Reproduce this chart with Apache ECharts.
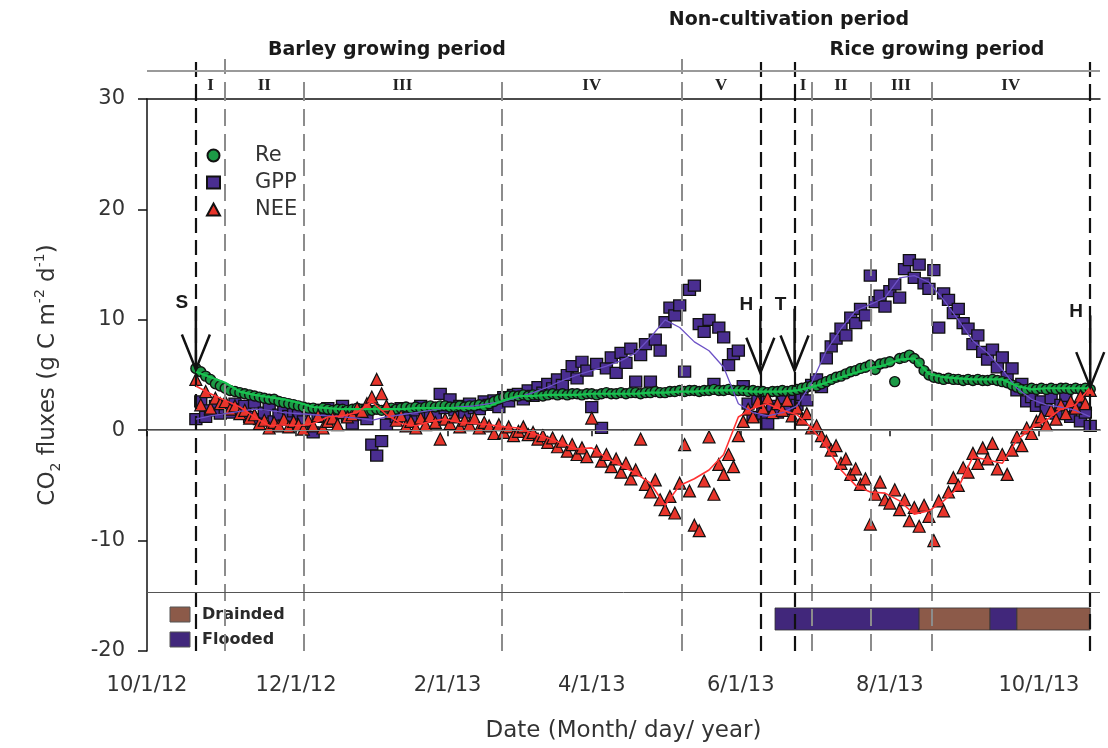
<!DOCTYPE html>
<html><head><meta charset="utf-8">
<script src="https://cdn.jsdelivr.net/npm/echarts@6/dist/echarts.min.js"></script>
<style>html,body{margin:0;padding:0;background:#fff}#c{width:1108px;height:748px}</style>
</head><body><div id="c"></div>
<script>
// ---- sampling of the daily flux record (every 2nd day from 21 Oct 2012) ----
const pointStart = [2012, 10, 21];
const pointStepDays = 2;
// ---- running-mean lines, sampled every 6th day from 21 Oct 2012 ----
const lineStart = [2012, 10, 21];
const lineStepDays = 6;

const reValues = [
 5.6,5.3,4.9,4.6,4.2,4.0,
 3.8,3.6,3.5,3.4,3.3,3.2,3.1,3.0,2.9,2.8,2.8,2.6,2.5,2.4,2.3,
 2.2,2.1,2.0,2.0,1.9,2.0,1.9,1.8,1.9,1.9,1.8,1.9,2.0,1.9,1.8,
 1.8,1.9,1.8,1.9,2.0,1.9,2.0,2.1,2.0,2.1,2.0,2.1,2.2,2.1,2.2,2.2,
 2.1,2.1,2.2,2.1,2.2,2.2,2.3,2.2,2.4,2.6,2.8,3.0,3.1,3.1,
 3.1,3.2,3.1,3.2,3.2,3.1,3.2,3.3,3.2,3.3,3.2,3.3,3.3,3.2,3.3,
 3.3,3.2,3.3,3.4,3.3,3.3,3.4,3.3,3.4,3.4,3.3,3.4,3.4,3.5,3.4,
 3.4,3.5,3.5,3.6,3.5,3.6,3.6,3.5,3.6,3.6,3.7,3.6,3.6,3.7,3.6,3.6,
 3.6,3.5,3.6,3.5,3.5,3.4,3.5,3.5,3.6,3.5,3.6,3.7,3.8,3.9,4.0,
 4.0,4.2,4.4,4.6,4.8,4.9,5.1,5.3,5.4,5.6,5.7,5.9,5.5,6.0,6.1,
 6.2,4.4,6.5,6.6,6.8,6.5,6.1,5.4,5.0,4.8,4.7,4.6,4.7,4.6,4.6,4.5,
 4.6,4.5,4.6,4.5,4.5,4.6,4.5,4.4,4.3,4.1,3.9,3.7,3.7,3.8,3.7,
 3.8,3.7,3.8,3.7,3.8,3.8,3.7,3.8,3.7,3.8,3.7
];
const gppValues = [
 1.0,2.6,1.2,1.8,2.2,1.5,
 2.0,1.6,2.4,1.9,2.2,1.2,2.5,1.0,1.6,2.3,0.8,1.4,2.1,1.3,1.7,
 1.5,0.8,1.9,-0.2,1.2,1.7,2.0,1.1,1.6,2.2,1.3,0.6,1.4,1.8,1.0,
 -1.3,-2.3,-1.0,0.5,1.6,1.2,2.0,1.4,0.9,1.8,2.2,1.5,1.5,1.2,3.3,2.0,
 2.8,1.8,2.2,1.6,2.4,2.0,1.9,2.6,2.3,2.7,2.1,3.0,2.6,3.2,
 3.3,2.8,3.6,3.1,3.9,3.4,4.2,3.8,4.6,4.1,5.0,5.8,4.7,6.2,5.4,
 2.1,6.0,0.2,5.6,6.6,5.2,7.0,6.1,7.4,4.4,6.8,7.8,4.4,8.2,7.2,
 9.8,11.1,10.4,11.3,5.3,12.7,13.1,9.6,8.9,10.0,4.2,9.3,8.4,5.9,6.9,7.2,
 4.0,2.4,1.2,2.8,1.5,0.6,2.2,1.6,2.6,1.9,2.9,2.3,3.2,2.7,4.1,
 4.6,3.9,6.5,7.6,8.3,9.2,8.6,10.2,9.7,11.0,10.4,14.0,11.6,12.2,11.2,
 12.6,13.2,12.0,14.6,15.4,13.8,15.0,13.3,12.8,14.5,9.3,12.4,11.8,10.6,11.0,9.7,
 9.2,7.8,8.6,7.1,6.4,7.3,5.7,6.6,4.8,5.6,3.6,4.2,2.6,3.0,2.2,
 2.6,1.8,2.9,1.5,2.3,3.1,1.2,2.0,0.8,1.6,0.4
];
const neeValues = [
 4.6,2.3,3.5,2.0,2.9,2.4,
 2.6,1.9,2.2,1.5,1.8,1.1,1.4,0.6,0.9,0.2,0.7,0.4,1.0,0.3,0.8,
 0.5,0.1,0.9,0.4,1.3,0.2,0.8,1.1,0.5,1.6,1.2,1.4,2.0,1.7,2.4,
 3.0,4.6,3.3,2.2,1.6,0.9,1.3,0.4,0.8,0.2,1.1,0.5,1.3,0.7,-0.8,1.0,
 0.6,1.2,0.3,0.9,0.5,1.1,0.2,0.7,0.4,-0.3,0.5,-0.2,0.3,-0.5,
 -0.1,0.3,-0.4,-0.2,-0.8,-0.5,-1.1,-0.7,-1.5,-1.0,-1.9,-1.3,-2.2,-1.6,-2.4,
 1.1,-1.9,-2.8,-2.2,-3.3,-2.6,-3.8,-3.0,-4.4,-3.6,-0.8,-4.9,-5.6,-4.5,-6.3,
 -7.2,-6.0,-7.5,-4.8,-1.3,-5.5,-8.6,-9.1,-4.6,-0.6,-5.8,-3.1,-4.0,-2.2,-3.3,-0.5,
 0.8,1.9,1.2,2.6,2.0,2.9,1.6,2.4,1.8,2.7,1.3,2.0,1.0,1.5,0.2,
 0.4,-0.5,-1.0,-1.8,-1.4,-3.0,-2.6,-4.0,-3.5,-4.9,-4.4,-8.5,-5.8,-4.7,-6.3,
 -6.6,-5.4,-7.2,-6.3,-8.2,-7.0,-8.7,-6.8,-7.8,-10.0,-6.4,-7.3,-5.6,-4.3,-5.0,-3.4,
 -3.8,-2.1,-3.0,-1.6,-2.6,-1.2,-3.5,-2.2,-4.0,-1.8,-0.6,-1.4,0.2,-0.3,0.8,
 1.2,0.5,1.8,1.0,2.3,1.5,2.6,2.0,3.1,2.4,3.6
];
const reLine = [5.3,4.8,4.3,3.5,3.2,3.0,2.8,2.5,2.1,2.0,1.9,1.9,1.9,1.9,1.9,2.0,2.0,2.0,2.0,2.0,2.2,2.7,3.1,3.1,3.2,3.2,3.2,3.3,3.3,3.3,3.3,3.4,3.4,3.5,3.5,3.6,3.6,3.6,3.5,3.5,3.5,3.6,3.9,4.3,4.8,5.2,5.6,5.9,6.4,6.5,5.1,4.8,4.7,4.6,4.6,4.6,4.0,3.7,3.8,3.8,3.8,3.8];
const gppLine = [1.0,1.3,1.5,1.7,1.9,1.8,1.6,1.5,1.4,1.3,1.2,1.1,0.9,1.2,1.4,1.6,1.8,2.0,2.1,2.2,2.4,2.6,3.0,3.4,3.9,4.5,5.0,5.4,5.8,6.3,7.0,8.4,10.0,9.3,8.0,7.2,5.7,2.4,1.6,1.3,1.6,2.2,4.3,7.2,9.2,10.8,11.4,12.0,13.8,14.0,13.4,11.8,10.0,8.1,7.0,5.5,3.8,2.8,2.3,2.1,1.8,1.2];
const neeLine = [4.0,3.3,2.7,2.1,1.2,0.4,0.5,0.4,0.6,1.2,1.3,1.6,2.6,1.4,0.6,0.4,0.8,1.0,0.7,0.6,0.5,0.3,0.2,-0.3,-0.7,-1.2,-1.7,-1.6,-2.5,-3.2,-3.9,-4.8,-6.8,-5.0,-4.4,-3.6,-2.2,1.2,2.0,2.4,1.8,1.4,0.2,-1.5,-3.6,-5.0,-5.6,-5.7,-6.4,-7.6,-7.3,-6.4,-5.2,-2.4,-2.7,-3.0,-0.9,0.2,0.9,1.9,2.3,3.9];

// x-axis tick labels (dates) and range
const xTickDates = ['2012-10-01','2012-12-01','2013-02-01','2013-04-01','2013-06-01','2013-08-01','2013-10-01'];
const xRange = ['2012-10-01','2013-10-26'];
const yTicks = [-20,-10,0,10,20,30];

// event dates (S sowing, H harvest, T transplanting) and growth-stage boundaries
const eventDates = ['2012-10-21','2013-06-09','2013-06-23','2013-10-22'];
const eventNames = ['S','H','T','H'];
const eventTip = [5.5, 5.2, 5.4, 3.9];
const eventTop = [11.2, 11.0, 11.0, 10.4];
const stageBounds = ['2012-11-02','2012-12-04','2013-02-23','2013-05-08','2013-06-30','2013-07-24','2013-08-18'];
const tallStage = ['2012-11-02','2013-05-08'];
const stageLabels = [
 ['I','2012-10-21','2012-11-02'],['II','2012-11-02','2012-12-04'],['III','2012-12-04','2013-02-23'],
 ['IV','2013-02-23','2013-05-08'],['V','2013-05-08','2013-06-09'],
 ['I','2013-06-23','2013-06-30'],['II','2013-06-30','2013-07-24'],['III','2013-07-24','2013-08-18'],['IV','2013-08-18','2013-10-22']
];
// water regime of the rice paddy
const waterSegments = [
 ['Flooded','2013-06-15','2013-08-13'],['Drainded','2013-08-13','2013-09-11'],
 ['Flooded','2013-09-11','2013-09-22'],['Drainded','2013-09-22','2013-10-22']
];
const waterBand = [-16.1, -18.1];
const separatorY = -14.7;

function ts(s){const p=s.split('-').map(Number);return new Date(p[0],p[1]-1,p[2]).getTime();}
function sampled(vals, start, step){return vals.map((v,i)=>[new Date(start[0],start[1]-1,start[2]+step*i).getTime(), v]);}

const C_RE='#1c9a46', C_GPP='#4a2e91', C_NEE='#e8352b', C_BROWN='#8c5a49', C_PURP='#41277b';
const FONT='DejaVu Sans';
const blackDash={color:'#111',width:2.2,type:[15,7]};
const grayDash={color:'#8c8c8c',width:2,type:[17,8]};

const mainLines=[];
eventDates.forEach(d=>mainLines.push({xAxis:ts(d),lineStyle:blackDash}));
stageBounds.forEach(d=>mainLines.push({xAxis:ts(d),lineStyle:grayDash}));
mainLines.push({yAxis:0,lineStyle:{color:'#8a8a8a',width:1,type:'solid'}});
mainLines.push({yAxis:separatorY,lineStyle:{color:'#555',width:1,type:'solid'}});

const headLines=[];
eventDates.forEach(d=>headLines.push([{coord:[ts(d),0],lineStyle:blackDash},{coord:[ts(d),43]}]));
stageBounds.forEach(d=>headLines.push([{coord:[ts(d),0],lineStyle:grayDash},{coord:[ts(d),tallStage.includes(d)?40:22]}]));
headLines.push({yAxis:28,lineStyle:{color:'#9a9a9a',width:2,type:'solid'}});

const xMin=ts(xRange[0]), xMax=ts(xRange[1]);
const chart=echarts.init(document.getElementById('c'));
chart.setOption({
 animation:false,
 backgroundColor:'#fff',
 grid:[{left:147,right:8,top:99,bottom:91},{left:147,right:8,top:56,height:43}],
 xAxis:[
  {type:'value',gridIndex:0,min:xMin,max:xMax,position:'bottom',
   axisLine:{lineStyle:{color:'#111',width:1.5}},
   axisTick:{customValues:xTickDates.map(ts),length:6,lineStyle:{color:'#111',width:1.5}},
   axisLabel:{customValues:xTickDates.map(ts),margin:24,fontFamily:FONT,fontSize:21,color:'#333',
     formatter:v=>{const d=new Date(v);return (d.getMonth()+1)+'/'+d.getDate()+'/'+String(d.getFullYear()).slice(2);}},
   splitLine:{show:false},
   name:'Date (Month/ day/ year)',nameLocation:'middle',nameGap:69,
   nameTextStyle:{fontFamily:FONT,fontSize:23,color:'#333'}},
  {type:'value',gridIndex:0,min:xMin,max:xMax,position:'top',
   axisLine:{lineStyle:{color:'#111',width:1.5}},axisTick:{show:false},axisLabel:{show:false},splitLine:{show:false}},
  {type:'value',gridIndex:1,min:xMin,max:xMax,show:false}
 ],
 yAxis:[
  {type:'value',gridIndex:0,min:-20,max:30,interval:10,
   axisLine:{show:true,lineStyle:{color:'#111',width:1.5}},
   axisTick:{show:true,length:9,lineStyle:{color:'#111',width:1.5}},
   axisLabel:{margin:22,fontFamily:FONT,fontSize:21,color:'#333',formatter:v=>yTicks.includes(v)?String(v):''},
   splitLine:{show:false},
   name:'{t|CO}{s|2}{t| fluxes (g C m}{p|-2}{t| d}{p|-1}{t|)}',
   nameLocation:'middle',nameRotate:90,nameGap:84,
   nameTextStyle:{rich:{
     t:{fontFamily:FONT,fontSize:23,color:'#333',lineHeight:30},
     s:{fontFamily:FONT,fontSize:14,color:'#333',lineHeight:16,verticalAlign:'bottom'},
     p:{fontFamily:FONT,fontSize:14,color:'#333',lineHeight:16,verticalAlign:'top'}}}},
  {type:'value',gridIndex:1,min:0,max:43,show:false}
 ],
 legend:{orient:'vertical',left:201,top:140,itemWidth:13,itemHeight:12,itemGap:6,selectedMode:false,
  textStyle:{fontFamily:FONT,fontSize:21,color:'#333',lineHeight:21,padding:[0,0,0,30]},
  data:[{name:'Re',icon:'circle'},{name:'GPP',icon:'rect'},{name:'NEE',icon:'triangle'}]},
 graphic:[
  {type:'text',x:387,y:50,style:{text:'Barley growing period',font:'bold 19px "DejaVu Sans"',fill:'#1a1a1a',align:'center',verticalAlign:'middle'}},
  {type:'text',x:789,y:20,style:{text:'Non-cultivation period',font:'bold 19px "DejaVu Sans"',fill:'#1a1a1a',align:'center',verticalAlign:'middle'}},
  {type:'text',x:937,y:50,style:{text:'Rice growing period',font:'bold 19px "DejaVu Sans"',fill:'#1a1a1a',align:'center',verticalAlign:'middle'}},
  {type:'rect',shape:{x:170,y:607,width:20,height:15},style:{fill:C_BROWN,stroke:'#555',lineWidth:1}},
  {type:'rect',shape:{x:170,y:632,width:20,height:15},style:{fill:C_PURP,stroke:'#555',lineWidth:1}},
  {type:'text',x:202,y:615,style:{text:'Drainded',font:'bold 16px "DejaVu Sans"',fill:'#2a2a2a',verticalAlign:'middle'}},
  {type:'text',x:202,y:640,style:{text:'Flooded',font:'bold 16px "DejaVu Sans"',fill:'#2a2a2a',verticalAlign:'middle'}}
 ],
 series:[
  {name:'guides',type:'line',xAxisIndex:0,yAxisIndex:0,data:[],z:1,silent:true,
   markLine:{silent:true,symbol:'none',label:{show:false},animation:false,data:mainLines},
   markArea:{silent:true,data:waterSegments.map(w=>[
     {xAxis:ts(w[1]),yAxis:waterBand[0],itemStyle:{color:w[0]==='Flooded'?C_PURP:C_BROWN,borderColor:'#333',borderWidth:0.8}},
     {xAxis:ts(w[2]),yAxis:waterBand[1]}])}},
  {name:'header',type:'line',xAxisIndex:2,yAxisIndex:1,data:[],z:1,silent:true,
   markLine:{silent:true,symbol:'none',label:{show:false},animation:false,data:headLines},
   markArea:{silent:true,itemStyle:{color:'rgba(0,0,0,0)'},
     label:{show:true,position:'inside',fontFamily:'Liberation Serif',fontWeight:'bold',fontSize:17,color:'#222'},
     data:stageLabels.map(s=>[{name:s[0],xAxis:ts(s[1]),yAxis:0},{xAxis:ts(s[2]),yAxis:26}])}},
  {name:'GPP',type:'scatter',symbol:'rect',symbolSize:[12,11],z:2,data:sampled(gppValues,pointStart,pointStepDays),
   itemStyle:{color:C_GPP,borderColor:'#111',borderWidth:1.3,opacity:1}},
  {name:'Re',type:'scatter',symbol:'circle',symbolSize:10,z:2,data:sampled(reValues,pointStart,pointStepDays),
   itemStyle:{color:C_RE,borderColor:'#111',borderWidth:1.4,opacity:1}},
  {name:'NEE',type:'scatter',symbol:'triangle',symbolSize:12,z:2,data:sampled(neeValues,pointStart,pointStepDays),
   itemStyle:{color:C_NEE,borderColor:'#111',borderWidth:1.2,opacity:1}},
  {name:'GPP mean',type:'line',z:5,showSymbol:false,silent:true,data:sampled(gppLine,lineStart,lineStepDays),lineStyle:{color:'#6d52c6',width:1.3}},
  {name:'Re mean',type:'line',z:5,showSymbol:false,silent:true,data:sampled(reLine,lineStart,lineStepDays),lineStyle:{color:'#17c24f',width:2.2}},
  {name:'NEE mean',type:'line',z:5,showSymbol:false,silent:true,data:sampled(neeLine,lineStart,lineStepDays),lineStyle:{color:'#ff3434',width:1.6}},
  {name:'events',type:'custom',z:6,silent:true,
   data:eventDates.map((d,i)=>[ts(d),eventTip[i],eventTop[i]]),
   renderItem:(params,api)=>{
     const tip=api.coord([api.value(0),api.value(1)]);
     const top=api.coord([api.value(0),api.value(2)]);
     return {type:'group',children:[
       {type:'line',shape:{x1:tip[0],y1:top[1],x2:tip[0],y2:tip[1]},style:{stroke:'#111',lineWidth:2.5}},
       {type:'polyline',shape:{points:[[tip[0]-14,tip[1]-35],[tip[0],tip[1]],[tip[0]+14,tip[1]-35]]},style:{stroke:'#111',lineWidth:2.5,fill:null}},
       {type:'text',x:tip[0]-14,y:top[1]-4,style:{text:eventNames[params.dataIndex],font:'bold 19px "Liberation Sans"',fill:'#1a1a1a',align:'center',verticalAlign:'middle'}}
     ]};
   }}
 ]
});
</script></body></html>
